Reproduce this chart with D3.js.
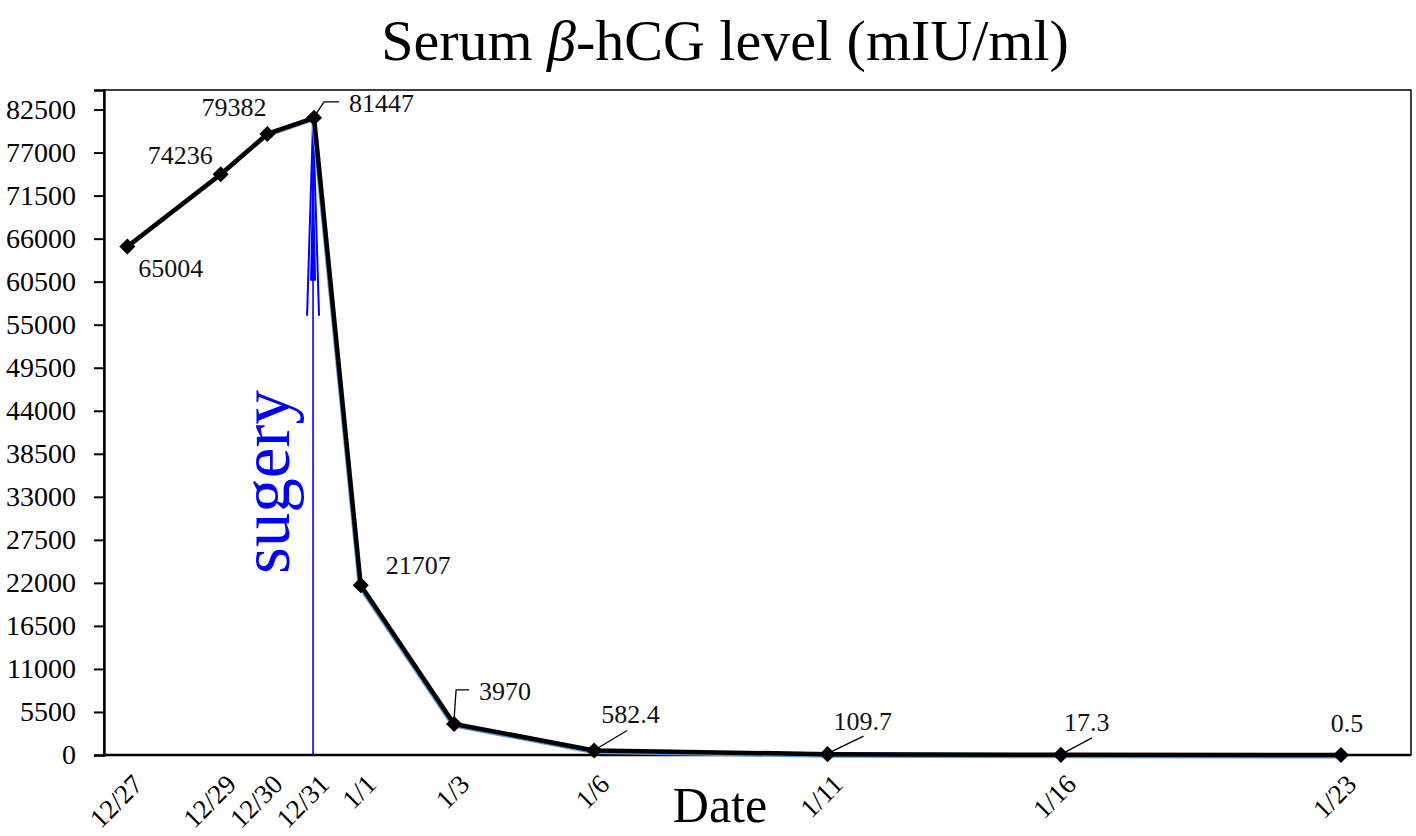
<!DOCTYPE html>
<html>
<head>
<meta charset="utf-8">
<script src="https://cdn.jsdelivr.net/npm/d3@7"></script>
<style>
  body { margin: 0; background: #fff; }
  text { font-family: 'Liberation Serif', 'Times New Roman', serif; }
</style>
</head>
<body>
<div id="wrapper"></div>
<script>
// data
const dates = ['12/27', '12/29', '12/30', '12/31', '1/1', '1/3', '1/6', '1/11', '1/16', '1/23'];
const days = [0, 2, 3, 4, 5, 7, 10, 15, 20, 26]; // position on the date axis, days after 12/27 as plotted
const values = [65004, 74236, 79382, 81447, 21707, 3970, 582.4, 109.7, 17.3, 0.5];
const valueLabels = ['65004', '74236', '79382', '81447', '21707', '3970', '582.4', '109.7', '17.3', '0.5'];
const yTicks = [0, 5500, 11000, 16500, 22000, 27500, 33000, 38500, 44000, 49500, 55000, 60500, 66000, 71500, 77000, 82500];
const surgeryIndex = 3;

// label placement relative to each point (layout only)
const labelPlacement = [
    { dx: 11, dy: 31, anchor: 'start' },
    { dx: -8, dy: -10, anchor: 'end' },
    { dx: -1, dy: -18, anchor: 'end' },
    { dx: 35, dy: -6, anchor: 'start', leader: [[2, -4], [10, -16], [25, -16]] },
    { dx: 25, dy: -11, anchor: 'start' },
    { dx: 25, dy: -24, anchor: 'start', leader: [[0, -5], [2, -34], [15, -34]] },
    { dx: 7, dy: -27, anchor: 'start', leader: [[3, -2], [33, -20]] },
    { dx: 6, dy: -24, anchor: 'start', leader: [[3, -2], [36, -18]] },
    { dx: 3, dy: -24, anchor: 'start', leader: [[3, -2], [31, -17]] },
    { dx: 6, dy: -23, anchor: 'middle' },
];

// 1. Dimensions
const dimensions = {
    width: 1416,
    height: 836,
    margin: { top: 90, right: 5, bottom: 81, left: 104 },
};
dimensions.boundedWidth = dimensions.width - dimensions.margin.left - dimensions.margin.right;
dimensions.boundedHeight = dimensions.height - dimensions.margin.top - dimensions.margin.bottom;

// 2. Canvas
const svg = d3.select('#wrapper')
    .append('svg')
    .attr('width', dimensions.width)
    .attr('height', dimensions.height);

const bounds = svg.append('g')
    .attr('transform', `translate(${dimensions.margin.left},${dimensions.margin.top})`);

// 3. Scales
const xScale = d3.scaleLinear()
    .domain([-0.5, 27.5])
    .range([0, dimensions.boundedWidth]);

const yScale = d3.scaleLinear()
    .domain([0, 85000])
    .range([dimensions.boundedHeight, 0]);

const data = dates.map((d, i) => ({ date: d, day: days[i], value: values[i], label: valueLabels[i] }));
const xAccessor = d => d.day;
const yAccessor = d => d.value;

// frame
bounds.append('rect')
    .attr('width', dimensions.boundedWidth)
    .attr('height', dimensions.boundedHeight)
    .attr('fill', 'none')
    .attr('stroke', '#000')
    .attr('stroke-width', 1.5);

// 4. Y axis
const yAxis = bounds.append('g')
    .call(d3.axisLeft(yScale).tickValues(yTicks).tickSize(10).tickPadding(18).tickFormat(d => d));
yAxis.select('.domain').attr('stroke-width', 2.5);
yAxis.selectAll('.tick line').attr('stroke-width', 2);
yAxis.selectAll('.tick text')
    .attr('font-size', 28)
    .attr('font-family', "'Liberation Serif', 'Times New Roman', serif")
    .attr('fill', '#000');

// x baseline
bounds.append('line')
    .attr('x1', 0)
    .attr('x2', dimensions.boundedWidth)
    .attr('y1', yScale(0))
    .attr('y2', yScale(0))
    .attr('stroke', '#000')
    .attr('stroke-width', 2.5);

// x tick labels, rotated
bounds.append('g')
    .selectAll('text')
    .data(data)
    .join('text')
    .attr('transform', d => `translate(${xScale(xAccessor(d)) + 17},${yScale(0) + 31}) rotate(-45)`)
    .attr('text-anchor', 'end')
    .attr('font-size', 27)
    .text(d => d.date);

// surgery arrow
const sx = xScale(xAccessor(data[surgeryIndex])) - 1;
const tipY = yScale(yAccessor(data[surgeryIndex])) + 3;
const arrow = bounds.append('g')
    .attr('stroke', '#0000ff')
    .attr('stroke-width', 1.6)
    .attr('fill', 'none');
arrow.append('line')
    .attr('x1', sx).attr('x2', sx)
    .attr('y1', yScale(0)).attr('y2', tipY);
arrow.append('path')
    .attr('d', `M${sx - 6},${tipY + 195} L${sx},${tipY} L${sx + 6},${tipY + 195}`)
    .attr('stroke-width', 2);
arrow.append('path')
    .attr('d', `M${sx - 3},${tipY + 160} L${sx},${tipY + 20} L${sx + 3},${tipY + 160} Z`)
    .attr('fill', '#0000ff')
    .attr('stroke', 'none');

bounds.append('text')
    .attr('transform', `translate(${sx - 24},${yScale(0) - 273}) rotate(-90)`)
    .attr('text-anchor', 'middle')
    .attr('font-size', 69)
    .attr('fill', '#0000ff')
    .text('sugery');

// 5. Line
const lineGenerator = d3.line()
    .x(d => xScale(xAccessor(d)))
    .y(d => yScale(yAccessor(d)));

bounds.append('path')
    .attr('d', lineGenerator(data))
    .attr('transform', 'translate(-1,1.5)')
    .attr('fill', 'none')
    .attr('stroke', '#5b9bd5')
    .attr('stroke-width', 4);

bounds.append('path')
    .attr('d', lineGenerator(data))
    .attr('fill', 'none')
    .attr('stroke', '#000')
    .attr('stroke-width', 4.5)
    .attr('stroke-linejoin', 'round');

// markers
bounds.append('g')
    .selectAll('path')
    .data(data)
    .join('path')
    .attr('d', d3.symbol(d3.symbolSquare, 130))
    .attr('transform', d => `translate(${xScale(xAccessor(d))},${yScale(yAccessor(d))}) rotate(45)`)
    .attr('fill', '#000');

// value labels with leader lines
const labelGroup = bounds.append('g');
data.forEach((d, i) => {
    const px = xScale(xAccessor(d));
    const py = yScale(yAccessor(d));
    const p = labelPlacement[i];
    if (p.leader) {
        labelGroup.append('path')
            .attr('d', d3.line()(p.leader.map(([a, b]) => [px + a, py + b])))
            .attr('fill', 'none')
            .attr('stroke', '#000')
            .attr('stroke-width', 1.3);
    }
    labelGroup.append('text')
        .attr('x', px + p.dx)
        .attr('y', py + p.dy)
        .attr('text-anchor', p.anchor)
        .attr('font-size', 26)
        .attr('fill', '#111')
        .text(d.label);
});

// titles
const title = svg.append('text')
    .attr('x', 725)
    .attr('y', 60)
    .attr('text-anchor', 'middle')
    .attr('font-size', 58);
title.append('tspan').text('Serum ');
title.append('tspan').attr('font-style', 'italic').text('β');
title.append('tspan').text('-hCG level (mIU/ml)');

svg.append('text')
    .attr('x', 720)
    .attr('y', 822)
    .attr('text-anchor', 'middle')
    .attr('font-size', 50)
    .text('Date');
</script>
</body>
</html>
